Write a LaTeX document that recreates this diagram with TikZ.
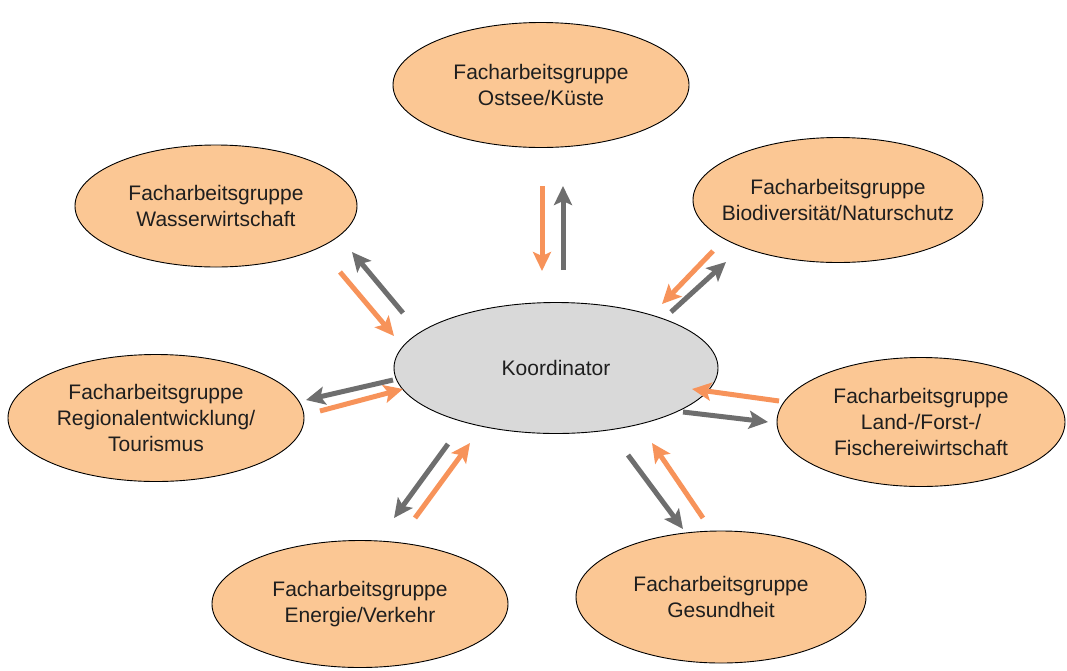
\documentclass[tikz,border=0pt]{standalone}
\usepackage{fontspec}
\setmainfont{Liberation Sans}
\usetikzlibrary{shapes.geometric,arrows.meta}
\definecolor{peach}{HTML}{FBC794}
\definecolor{koord}{HTML}{D9D9D9}
\definecolor{arrorange}{HTML}{F7935A}
\definecolor{arrgray}{HTML}{6E6E6E}
\definecolor{txt}{HTML}{1E1E1E}
\begin{document}
\begin{tikzpicture}[x=1pt,y=-1pt,
  grp/.style={ellipse,draw=black,line width=0.9pt,fill=peach,inner xsep=-60pt,inner ysep=-45pt,
    align=center,text=txt,font=\fontsize{21}{26}\selectfont},
  ctr/.style={grp,fill=koord},
  oarr/.style={draw=arrorange,line width=5pt,-{Stealth[length=19pt,width=18pt,inset=4pt]}},
  garr/.style={draw=arrgray,line width=5pt,-{Stealth[length=19pt,width=18pt,inset=4pt]}}]
\useasboundingbox (0,0) rectangle (1067,670);
\node[grp,minimum width=296pt,minimum height=125pt] (ost) at (541,85) {Facharbeitsgruppe\\Ostsee/Küste};
\node[grp,minimum width=282pt,minimum height=122pt] (was) at (216,206) {Facharbeitsgruppe\\Wasserwirtschaft};
\node[grp,minimum width=290pt,minimum height=125pt] (bio) at (838,200) {Facharbeitsgruppe\\Biodiversität/Naturschutz};
\node[ctr,minimum width=324pt,minimum height=131pt] (ko) at (556,368) {Koordinator};
\node[grp,minimum width=296pt,minimum height=127pt] (reg) at (156,418) {Facharbeitsgruppe\\Regionalentwicklung/\\Tourismus};
\node[grp,minimum width=288pt,minimum height=129pt] (land) at (921,422) {Facharbeitsgruppe\\Land-/Forst-/\\Fischereiwirtschaft};
\node[grp,minimum width=296pt,minimum height=127pt] (ene) at (360,604) {Facharbeitsgruppe\\Energie/Verkehr};
\node[grp,minimum width=290pt,minimum height=132pt] (ges) at (721,597) {Facharbeitsgruppe\\Gesundheit};
% arrow end points
\coordinate (o1) at (542,186); \coordinate (o2) at (542,271);
\coordinate (o3) at (563,270); \coordinate (o4) at (563,186);
\coordinate (w1) at (403,313); \coordinate (w2) at (352,252);
\coordinate (w3) at (340,272); \coordinate (w4) at (394,336);
\coordinate (b1) at (713,251); \coordinate (b2) at (662,304);
\coordinate (b3) at (671,312); \coordinate (b4) at (726,262);
\coordinate (r1) at (393,380); \coordinate (r2) at (306,400);
\coordinate (r3) at (320,411); \coordinate (r4) at (403,389);
\coordinate (l1) at (779,401); \coordinate (l2) at (692,389);
\coordinate (l3) at (683,412); \coordinate (l4) at (768,422);
\coordinate (e1) at (448,444); \coordinate (e2) at (394,518);
\coordinate (e3) at (415,518); \coordinate (e4) at (470,443);
\coordinate (g1) at (628,455); \coordinate (g2) at (683,529);
\coordinate (g3) at (703,518); \coordinate (g4) at (652,443);
\draw[oarr] (o1) -- (o2); \draw[garr] (o3) -- (o4);
\draw[garr] (w1) -- (w2); \draw[oarr] (w3) -- (w4);
\draw[oarr] (b1) -- (b2); \draw[garr] (b3) -- (b4);
\draw[garr] (r1) -- (r2); \draw[oarr] (r3) -- (r4);
\draw[oarr] (l1) -- (l2); \draw[garr] (l3) -- (l4);
\draw[garr] (e1) -- (e2); \draw[oarr] (e3) -- (e4);
\draw[garr] (g1) -- (g2); \draw[oarr] (g3) -- (g4);
\end{tikzpicture}
\end{document}
